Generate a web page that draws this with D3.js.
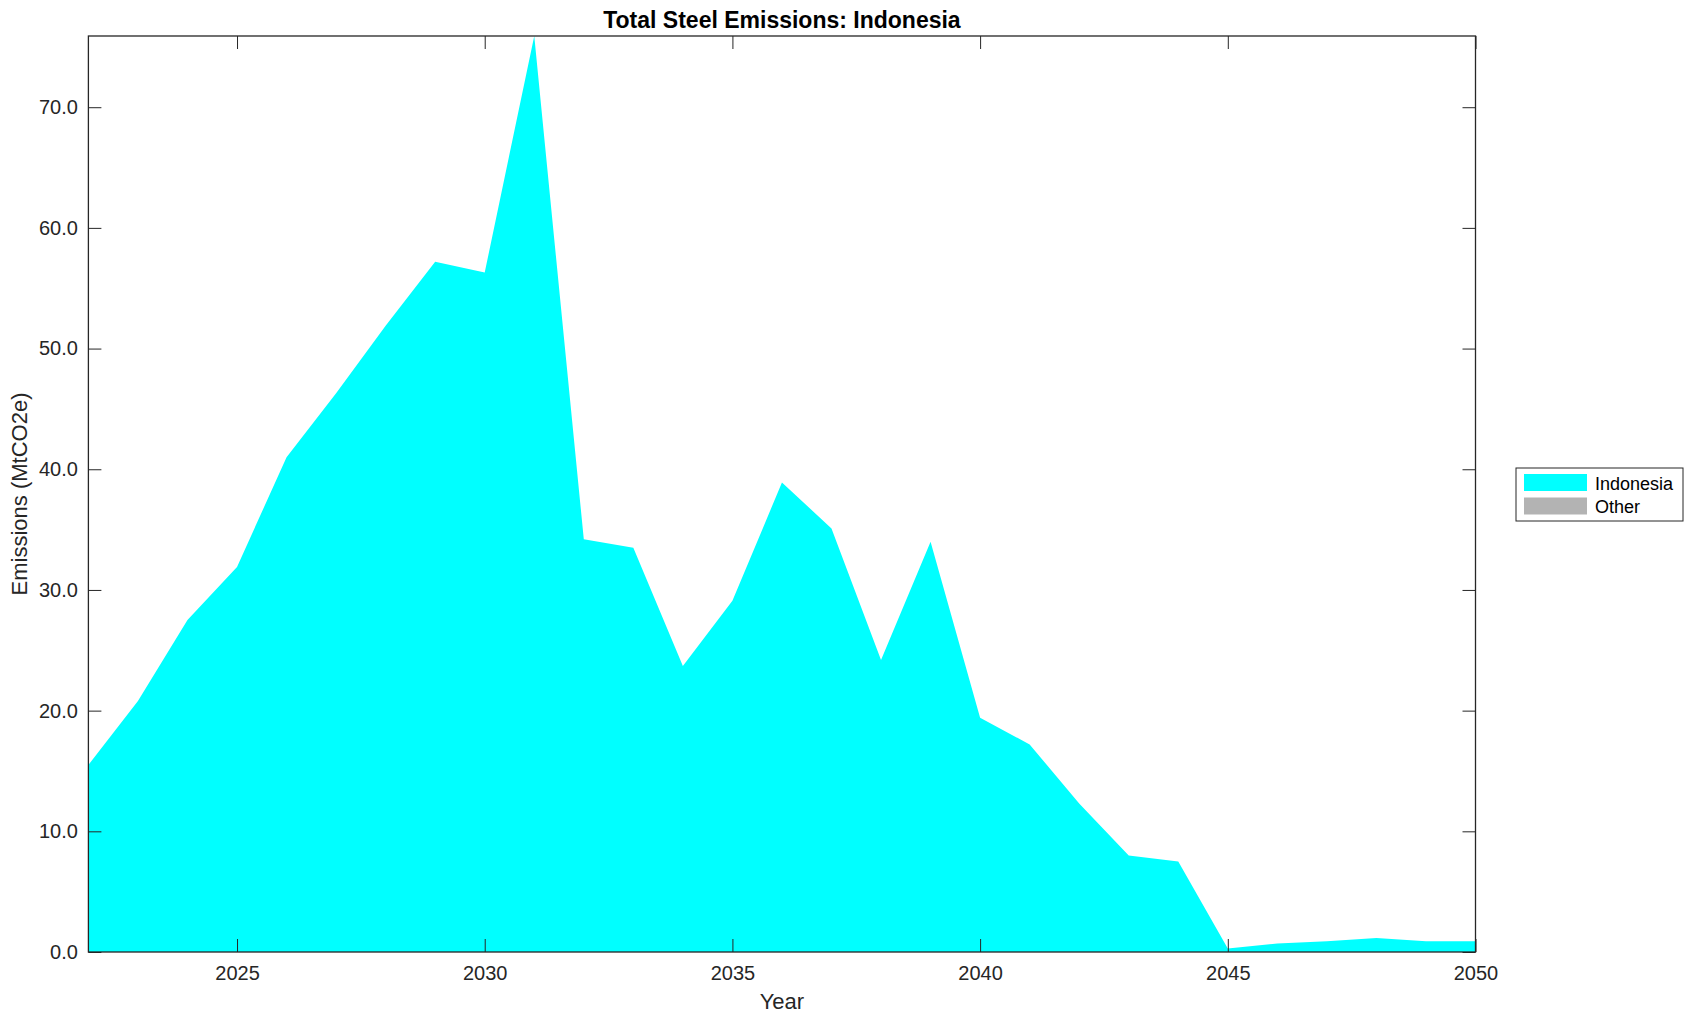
<!DOCTYPE html>
<html>
<head>
<meta charset="utf-8">
<script src="https://cdn.jsdelivr.net/npm/d3@7"></script>
<style>
  body { margin: 0; background: #fff; }
  svg { font-family: "Liberation Sans", Arial, Helvetica, sans-serif; }
</style>
</head>
<body>
<svg id="chart" width="1695" height="1021"></svg>
<script>
// chart data
var years = d3.range(2022, 2051);
var indonesia = [15.5, 20.8, 27.5, 31.9, 41.0, 46.3, 51.9, 57.2, 56.3, 75.9,
                 34.2, 33.5, 23.7, 29.1, 38.9, 35.1, 24.2, 34.0, 19.4, 17.2,
                 12.3, 8.0, 7.5, 0.3, 0.7, 0.9, 1.15, 0.9, 0.9];
var other = years.map(() => 0);
var seriesNames = ["Indonesia", "Other"];
var seriesColors = ["#00ffff", "#b3b3b3"];
var xTicks = [2025, 2030, 2035, 2040, 2045, 2050];
var yTicks = [0, 10, 20, 30, 40, 50, 60, 70];

// size of the plot box (note: "top" is taken by window.top)
var plotLeft = 88.4, plotRight = 1475.5, plotTop = 36, plotBottom = 952;
var axisColor = "#262626";

var svg = d3.select("#chart");

var rows = years.map((yr, i) => ({ year: yr, Indonesia: indonesia[i], Other: other[i] }));
var stack = d3.stack().keys(seriesNames);
var layers = stack(rows);

var x = d3.scaleLinear().domain([2022, 2050]).range([plotLeft, plotRight]);
var ymax = d3.max(rows, (d) => d.Indonesia + d.Other);
var y = d3.scaleLinear().domain([0, ymax]).range([plotBottom, plotTop]);

var area = d3.area()
    .x((d) => x(d.data.year))
    .y0((d) => y(d[0]))
    .y1((d) => y(d[1]));

svg.append("g")
    .selectAll("path")
    .data(layers)
    .join("path")
    .attr("fill", (d, i) => seriesColors[i])
    .attr("d", area);

// axes, ticks pointing inward like matlab
svg.append("g")
    .attr("transform", "translate(0," + plotBottom + ")")
    .call(d3.axisBottom(x).tickValues(xTicks).tickFormat(d3.format("d"))
        .tickSizeInner(-13).tickSizeOuter(0).tickPadding(14));

svg.append("g")
    .attr("transform", "translate(" + plotLeft + ",0)")
    .call(d3.axisLeft(y).tickValues(yTicks).tickFormat(d3.format(".1f"))
        .tickSizeInner(-13).tickSizeOuter(0).tickPadding(10.5));

svg.append("g")
    .attr("transform", "translate(0," + plotTop + ")")
    .call(d3.axisTop(x).tickValues(xTicks).tickFormat("")
        .tickSizeInner(-13).tickSizeOuter(0));

svg.append("g")
    .attr("transform", "translate(" + plotRight + ",0)")
    .call(d3.axisRight(y).tickValues(yTicks).tickFormat("")
        .tickSizeInner(-13).tickSizeOuter(0));

svg.selectAll(".domain").remove();
svg.selectAll(".tick line").attr("stroke", axisColor).attr("stroke-width", 1);
svg.selectAll(".tick text")
    .attr("fill", axisColor)
    .style("font-size", "20px");

// box
svg.append("rect")
    .attr("x", plotLeft)
    .attr("y", plotTop)
    .attr("width", plotRight - plotLeft)
    .attr("height", plotBottom - plotTop)
    .attr("fill", "none")
    .attr("stroke", axisColor)
    .attr("stroke-width", 1.3);

// title and labels
svg.append("text")
    .attr("x", (plotLeft + plotRight) / 2)
    .attr("y", 28)
    .attr("text-anchor", "middle")
    .style("font-size", "23px")
    .style("font-weight", "bold")
    .attr("fill", "#000")
    .text("Total Steel Emissions: Indonesia");

svg.append("text")
    .attr("x", (plotLeft + plotRight) / 2)
    .attr("y", 1009)
    .attr("text-anchor", "middle")
    .style("font-size", "22px")
    .attr("fill", axisColor)
    .text("Year");

svg.append("text")
    .attr("transform", "translate(27," + (plotTop + plotBottom) / 2 + ") rotate(-90)")
    .attr("text-anchor", "middle")
    .style("font-size", "22px")
    .attr("fill", axisColor)
    .text("Emissions (MtCO2e)");

// legend
var legend = svg.append("g").attr("transform", "translate(1516,468)");
legend.append("rect")
    .attr("width", 167)
    .attr("height", 53)
    .attr("fill", "#fff")
    .attr("stroke", axisColor)
    .attr("stroke-width", 1);

var item = legend.selectAll("g.item")
    .data(seriesNames)
    .join("g")
    .attr("class", "item")
    .attr("transform", (d, i) => "translate(0," + (i * 23.5) + ")");

item.append("rect")
    .attr("x", 8)
    .attr("y", 6)
    .attr("width", 63)
    .attr("height", 17)
    .attr("fill", (d, i) => seriesColors[i]);

item.append("text")
    .attr("x", 79)
    .attr("y", 21.5)
    .style("font-size", "18px")
    .attr("fill", "#000")
    .text((d) => d);
</script>
</body>
</html>
